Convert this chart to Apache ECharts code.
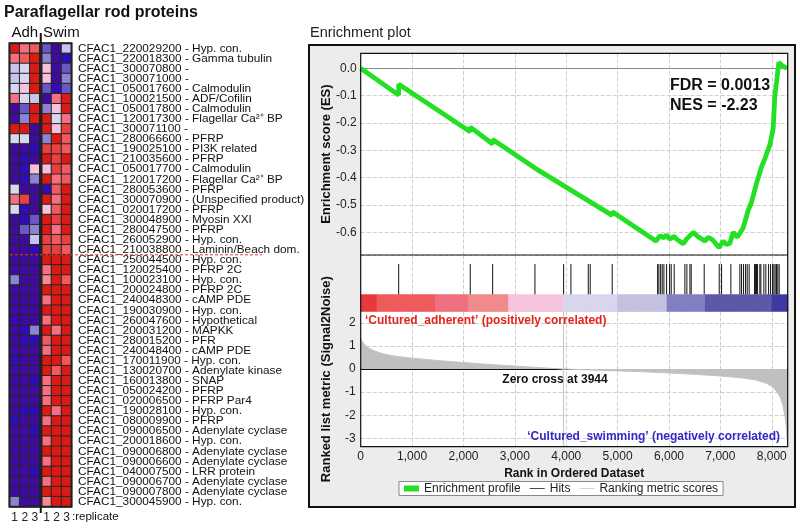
<!DOCTYPE html>
<html><head><meta charset="utf-8">
<script src="https://cdn.jsdelivr.net/npm/echarts@6/dist/echarts.min.js"></script>
<style>
html,body{margin:0;padding:0;background:#fff;}
#wrap{position:relative;width:800px;height:528px;}
#frame{position:absolute;left:308px;top:44px;width:488px;height:464px;background:#ececec;border:2px solid #111;box-sizing:border-box;}
#chart{position:absolute;left:0;top:0;width:800px;height:528px;}
</style></head>
<body><div id="wrap"><div id="frame"></div><div id="chart"></div></div>
<script>
// ---------- data ----------
const geneLabels = [
 'CFAC1_220029200 - Hyp. con.','CFAC1_220018300 - Gamma tubulin','CFAC1_300070800 -','CFAC1_300071000 -',
 'CFAC1_050017600 - Calmodulin','CFAC1_100021500 - ADF/Cofilin','CFAC1_050017800 - Calmodulin',
 'CFAC1_120017300 - Flagellar Ca\u00b2\u207a BP','CFAC1_300071100 -','CFAC1_280066600 - PFRP',
 'CFAC1_190025100 - PI3K related','CFAC1_210035600 - PFRP','CFAC1_050017700 - Calmodulin',
 'CFAC1_120017200 - Flagellar Ca\u00b2\u207a BP','CFAC1_280053600 - PFRP','CFAC1_300070900 - (Unspecified product)',
 'CFAC1_020017200 - PFRP','CFAC1_300048900 - Myosin XXI','CFAC1_280047500 - PFRP','CFAC1_260052900 - Hyp. con.',
 'CFAC1_210038800 - Laminin/Beach dom.','CFAC1_250044500 - Hyp. con.','CFAC1_120025400 - PFRP 2C',
 'CFAC1_100023100 - Hyp. con.','CFAC1_200024800 - PFRP 2C','CFAC1_240048300 - cAMP PDE','CFAC1_190030900 - Hyp. con.',
 'CFAC1_260047600 - Hypothetical','CFAC1_200031200 - MAPKK','CFAC1_280015200 - PFR','CFAC1_240048400 - cAMP PDE',
 'CFAC1_170011900 - Hyp. con.','CFAC1_130020700 - Adenylate kinase','CFAC1_160013800 - SNAP','CFAC1_050024200 - PFRP',
 'CFAC1_020006500 - PFRP Par4','CFAC1_190028100 - Hyp. con.','CFAC1_080009900 - PFRP','CFAC1_090006500 - Adenylate cyclase',
 'CFAC1_200018600 - Hyp. con.','CFAC1_090006800 - Adenylate cyclase','CFAC1_090006600 - Adenylate cyclase',
 'CFAC1_040007500 - LRR protein','CFAC1_090006700 - Adenylate cyclase','CFAC1_090007800 - Adenylate cyclase',
 'CFAC1_300045900 - Hyp. con.'
];
const replicates = ['1','2','3'];
// colour levels 0 (lowest, blue) .. 11 (highest, red), per replicate
const heatAdh = [
 [11,8,9],[8,9,11],[4,5,11],[4,5,11],[5,6,11],[8,5,4],[0,2,11],[0,3,11],[11,11,0],[5,5,0],
 [0,0,1],[0,1,0],[0,1,6],[0,1,3],[5,0,0],[8,10,0],[5,1,0],[0,1,2],[0,2,3],[0,0,4],
 [0,0,1],[0,0,0],[0,0,0],[3,0,0],[0,0,0],[0,0,0],[0,0,0],[1,0,0],[0,1,3],[0,1,1],
 [0,0,0],[1,0,0],[0,0,0],[0,0,1],[0,0,0],[0,0,0],[0,1,1],[1,0,0],[0,0,1],[0,0,0],
 [0,0,0],[0,0,0],[0,0,1],[0,0,0],[0,0,0],[3,0,0]
];
const heatSwim = [
 [2,0,4],[3,0,1],[6,0,2],[6,0,3],[2,1,2],[0,8,11],[3,6,11],[11,5,8],[11,6,10],[3,11,9],
 [10,10,9],[11,10,11],[6,10,9],[11,8,9],[1,9,11],[11,8,11],[6,9,11],[11,10,11],[11,8,11],[10,9,10],
 [10,10,9],[11,11,11],[8,11,11],[7,11,9],[11,11,11],[8,11,11],[11,11,11],[8,11,11],[11,8,11],[9,11,11],
 [8,11,11],[11,11,9],[11,9,11],[8,11,11],[8,11,11],[8,11,11],[11,8,11],[8,11,11],[11,11,11],[8,11,11],
 [11,11,11],[8,11,11],[11,11,11],[8,11,11],[11,11,11],[7,11,11]
];
const esRanks  = [0,739,739,2132,2132,2568,2568,3391,3391,4895,4895,5745,5778,5823,5900,5953,6012,6101,6148,6276,6340,6471,6560,6698,6763,6850,6977,7055,7120,7185,7249,7330,7444,7541,7606,7704,7802,7866,7963,8027,8060,8093,8138,8200,8300];
const esValues = [0,-0.098,-0.058,-0.232,-0.215,-0.277,-0.26,-0.365,-0.36,-0.538,-0.525,-0.632,-0.625,-0.612,-0.62,-0.61,-0.625,-0.615,-0.625,-0.642,-0.625,-0.600,-0.615,-0.632,-0.618,-0.628,-0.656,-0.632,-0.645,-0.640,-0.600,-0.618,-0.583,-0.52,-0.49,-0.42,-0.36,-0.33,-0.28,-0.22,-0.10,-0.05,0.022,0.01,0.0];
const hitRanks = [739,2132,2568,3391,3949,4091,4429,4467,4895,5778,5803,5837,5868,5901,5953,6012,6043,6101,6309,6348,6407,6432,6685,6977,7023,7204,7379,7412,7451,7490,7522,7560,7665,7685,7704,7724,7768,7788,7846,7885,7938,7977,8016,8041,8066,8093,8118,8144];
const metricRanks  = [0,30,80,150,250,400,600,800,1000,1500,2000,2500,3000,3500,3944,4500,5000,5500,6000,6500,7000,7400,7700,7900,8000,8100,8170,8220,8260,8285,8300,8310];
const metricValues = [1.35,1.2,1.05,0.92,0.8,0.68,0.58,0.52,0.47,0.37,0.28,0.2,0.13,0.06,0,-0.04,-0.08,-0.12,-0.17,-0.23,-0.3,-0.38,-0.48,-0.62,-0.75,-0.98,-1.25,-1.6,-2.1,-2.6,-3.1,-3.4];
const barBreaks = [0,311,1446,2094,2872,3942,4993,5955,6700,7997,8310];
const zeroCross = 3944;
const totalRanks = 8310;
const fdr = '0.0013', nes = '-2.23';

// ---------- styles ----------
const FONT = '"Liberation Sans", Arial, Helvetica, sans-serif';
const heatPalette = ['#3f0a9e','#2f0cb6','#6a56c8','#8a84d2','#c8c4ea','#d8d6f0','#f7c0dc','#f78a90','#f47080','#f05a5e','#e8403e','#dc1a14'];
const barColors = ['#e8383c','#ef5a5c','#ee6f80','#f18a8a','#f6c4dc','#d7d6ec','#c4c0df','#8080c2','#5f58a8','#3c3aa0'];
const GREEN = '#24e024';
const THIN_ICON = 'path://M0,0H0.05V0.05H0Z M0,2.5H20V3.5H0Z M19.95,5.95H20V6H19.95Z';

function heatData(rows){const out=[];rows.forEach((r,ri)=>r.forEach((v,ci)=>out.push([ci,ri,v])));return out;}
const esData = esRanks.map((r,i)=>[r,esValues[i]]);
const metricData = metricRanks.map((r,i)=>[r,metricValues[i]]);
const barData = barColors.map((c,i)=>[barBreaks[i],barBreaks[i+1],i]);
const hitData = hitRanks.map(r=>[r]);
const commaFmt = v => (Math.abs(v % 1000) > 1e-6) ? '' : String(v).replace(/\B(?=(\d{3})+(?!\d))/g, ',');
const esFmt = v => { const r=Math.round(v*10); return Math.abs(v*10-r)>1e-6 ? '' : (r/10).toFixed(1); };
const intFmt = v => { const r=Math.round(v); return Math.abs(v-r)>1e-6 ? '' : String(r); };

const PL = 360.7, PW = 427;
const dashed = {show:true, lineStyle:{type:'dashed', color:'#cfcfcf', width:1}};
function valX(grid, showLabels){
  return {gridIndex:grid, type:'value', min:0, max:totalRanks, splitNumber:9,
    axisLine:{show:showLabels, lineStyle:{color:'#111'}}, axisTick:{show:false},
    axisLabel:{show:showLabels, formatter:commaFmt, fontSize:12, color:'#222', margin:4, fontFamily:FONT, showMaxLabel:false},
    splitLine:dashed};
}
const chart = echarts.init(document.getElementById('chart'), null, {renderer:'canvas'});
const txt = (text,x,y,o) => Object.assign({type:'text', z:100, silent:true, style:Object.assign({text, x, y, font:'12px '+FONT, fill:'#111', align:'left', verticalAlign:'middle'}, o||{})});
chart.setOption({
  animation:false,
  backgroundColor:'transparent',
  textStyle:{fontFamily:FONT},
  grid:[
    {left:PL, top:53.3, width:PW, height:201.7, show:true, backgroundColor:'#fff', borderWidth:0},
    {left:PL, top:255, width:PW, height:56.7, show:true, backgroundColor:'#fff', borderWidth:0},
    {left:PL, top:311.7, width:PW, height:135, show:true, backgroundColor:'#fff', borderWidth:0},
    {left:9.5, top:43.3, width:30.5, height:463.4},
    {left:41.5, top:43.3, width:30, height:463.4}
  ],
  xAxis:[
    valX(0,false), valX(1,false),
    Object.assign(valX(2,true), {name:'Rank in Ordered Dataset', nameLocation:'middle', nameGap:21, nameMoveOverlap:false,
      nameTextStyle:{fontSize:12, fontWeight:'bold', color:'#111', fontFamily:FONT}}),
    {gridIndex:3, type:'category', data:replicates, axisLine:{show:false}, axisTick:{show:false},
      axisLabel:{fontSize:12, color:'#222', margin:5, fontFamily:FONT}, splitLine:{show:false}},
    {gridIndex:4, type:'category', data:replicates, axisLine:{show:false}, axisTick:{show:false},
      axisLabel:{fontSize:12, color:'#222', margin:5, fontFamily:FONT}, splitLine:{show:false}}
  ],
  yAxis:[
    {gridIndex:0, type:'value', min:-0.683, max:0.055, splitNumber:7,
      name:'Enrichment score (ES)', nameLocation:'middle', nameGap:28, nameMoveOverlap:false,
      nameTextStyle:{fontSize:13, fontWeight:'bold', color:'#111', fontFamily:FONT},
      axisLine:{show:false}, axisTick:{show:false},
      axisLabel:{formatter:esFmt, fontSize:12, color:'#222', margin:4, fontFamily:FONT, showMinLabel:false, showMaxLabel:false},
      splitLine:dashed},
    {gridIndex:1, type:'value', min:0, max:1, show:false, splitLine:{show:false}},
    {gridIndex:2, type:'value', min:-3.36, max:2.48, splitNumber:6,
      name:'Ranked list metric (Signal2Noise)', nameLocation:'middle', nameGap:28, nameMoveOverlap:false,
      nameTextStyle:{fontSize:13, fontWeight:'bold', color:'#111', fontFamily:FONT},
      axisLine:{show:false}, axisTick:{show:false},
      axisLabel:{formatter:intFmt, fontSize:12, color:'#222', margin:5, fontFamily:FONT, showMinLabel:false, showMaxLabel:false},
      splitLine:dashed},
    {gridIndex:3, type:'category', data:geneLabels, inverse:true, axisLine:{show:false}, axisTick:{show:false},
      axisLabel:{show:false}, splitLine:{show:false}},
    {gridIndex:4, type:'category', data:geneLabels, inverse:true, position:'right', axisLine:{show:false}, axisTick:{show:false},
      axisLabel:{show:true, interval:0, margin:6.5, fontSize:11.8, color:'#111', fontFamily:FONT}, splitLine:{show:false}}
  ],
  visualMap:{type:'continuous', min:0, max:11, show:false, seriesIndex:[5,6], inRange:{color:heatPalette}},
  legend:{left:399, top:481.5,
    data:[{name:'Enrichment profile', icon:'rect'},{name:'Hits', icon:THIN_ICON},{name:'Ranking metric scores', icon:THIN_ICON}],
    itemWidth:15, itemHeight:6, itemGap:9, padding:[1,5,1,5], borderColor:'#888', borderWidth:1,
    backgroundColor:'#fff', textStyle:{fontSize:12, color:'#222', fontFamily:FONT}, selectedMode:false},
  series:[
    {name:'Enrichment profile', type:'line', xAxisIndex:0, yAxisIndex:0, data:esData, showSymbol:false, symbol:'none',
      lineStyle:{color:GREEN, width:4.8}, itemStyle:{color:GREEN}, z:5,
      markLine:{silent:true, symbol:'none', label:{show:false}, lineStyle:{color:'#8a8a8a', type:'solid', width:1},
        data:[{yAxis:0}]}},
    {type:'custom', xAxisIndex:1, yAxisIndex:1, data:barData, silent:true,
      renderItem:(p,api)=>{const a=api.coord([api.value(0),0.307]);const b=api.coord([api.value(1),0]);
        return {type:'rect', shape:{x:a[0],y:a[1],width:b[0]-a[0]+0.5,height:b[1]-a[1]}, style:{fill:barColors[api.value(2)]}};}},
    {type:'custom', xAxisIndex:1, yAxisIndex:1, data:hitData, silent:true,
      renderItem:(p,api)=>{const a=api.coord([api.value(0),0.84]);const b=api.coord([api.value(0),0.307]);
        return {type:'line', shape:{x1:a[0],y1:a[1],x2:b[0],y2:b[1]}, style:{stroke:'#111', lineWidth:1}};}},
    {name:'Hits', type:'line', xAxisIndex:1, yAxisIndex:1, data:[], symbol:'none', lineStyle:{color:'#111', width:1.5}, itemStyle:{color:'#111'}},
    {name:'Ranking metric scores', type:'line', xAxisIndex:2, yAxisIndex:2, data:metricData, showSymbol:false, symbol:'none',
      lineStyle:{color:'#c4c4c4', width:1}, itemStyle:{color:'#c8c8c8'}, areaStyle:{color:'#c0c0c0', opacity:1, origin:0},
      markLine:{silent:true, symbol:'none', label:{show:false}, lineStyle:{color:'#c8c8c8', type:'solid', width:1.2},
        data:[{xAxis:zeroCross}]}},
    {type:'heatmap', xAxisIndex:3, yAxisIndex:3, data:heatData(heatAdh), itemStyle:{borderColor:'#262626', borderWidth:1}},
    {type:'heatmap', xAxisIndex:4, yAxisIndex:4, data:heatData(heatSwim), itemStyle:{borderColor:'#262626', borderWidth:1}}
  ],
  graphic:[
    {type:'rect', z:100, silent:true, shape:{x:PL, y:53.3, width:PW, height:393.4}, style:{fill:null, stroke:'#111', lineWidth:1.2}},
    {type:'line', z:100, silent:true, shape:{x1:PL, y1:255, x2:PL+PW, y2:255}, style:{stroke:'#111', lineWidth:1.2}},
    {type:'rect', z:100, silent:true, shape:{x:9.5, y:43.3, width:30.5, height:463.4}, style:{fill:null, stroke:'#222', lineWidth:2}},
    {type:'rect', z:100, silent:true, shape:{x:41.5, y:43.3, width:30, height:463.4}, style:{fill:null, stroke:'#222', lineWidth:2}},
    {type:'line', z:100, silent:true, shape:{x1:40.75, y1:33, x2:40.75, y2:43.3}, style:{stroke:'#111', lineWidth:2}},
    {type:'line', z:100, silent:true, shape:{x1:40.75, y1:506.7, x2:40.75, y2:513}, style:{stroke:'#111', lineWidth:2}},
    {type:'line', z:101, silent:true, shape:{x1:10, y1:254.8, x2:262, y2:254.8}, style:{stroke:'#e03a3a', lineWidth:1, lineDash:[3,2]}},
    txt('Paraflagellar rod proteins', 4, 13, {font:'bold 16px '+FONT}),
    txt('Adh', 11.5, 33, {font:'15px '+FONT}),
    txt('Swim', 43, 33, {font:'15px '+FONT}),
    txt(':replicate', 72, 517, {font:'11.5px '+FONT}),
    txt('Enrichment plot', 310, 33, {font:'14.5px '+FONT, fill:'#222'}),
    txt('FDR = '+fdr, 670, 86, {font:'bold 16px '+FONT}),
    txt('NES = '+nes, 670, 106, {font:'bold 16px '+FONT}),
    txt('Zero cross at '+zeroCross, 555, 380, {font:'bold 12px '+FONT, align:'center'}),
    txt('\u2018Cultured_adherent\u2019 (positively correlated)', 365, 321, {font:'bold 12px '+FONT, fill:'#e3241b'}),
    txt('\u2018Cultured_swimming\u2019 (negatively correlated)', 780, 437, {font:'bold 12px '+FONT, fill:'#3526c8', align:'right'})
  ]
});
</script></body></html>
